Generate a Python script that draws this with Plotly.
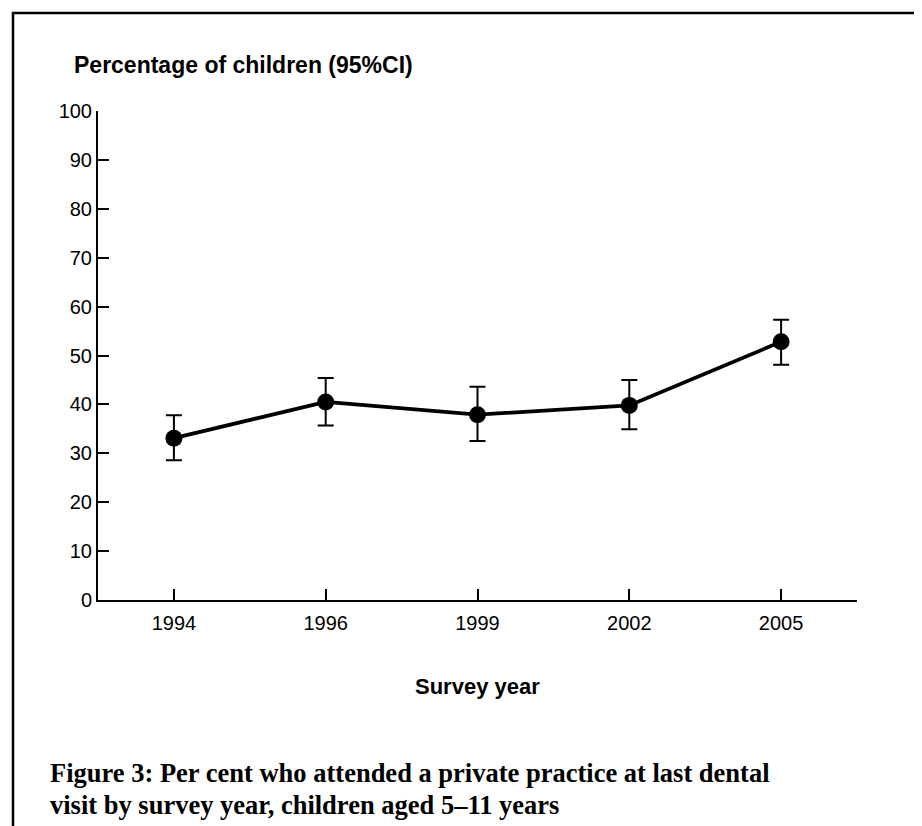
import plotly.graph_objects as go

years = ["1994", "1996", "1999", "2002", "2005"]
pct = [33.1, 40.5, 37.9, 39.8, 52.8]
ci_low = [28.6, 35.7, 32.5, 34.9, 48.1]
ci_high = [37.8, 45.4, 43.6, 45.0, 57.3]
y_ticks = [0, 10, 20, 30, 40, 50, 60, 70, 80, 90, 100]

W, H = 922, 826
L, R, T, B = 90, 73, 103, 234
pw, ph = W - L - R, H - T - B

def px(x):
    return (x - L) / pw

def py(y):
    return (H - B - y) / ph

err_plus = [h - v for h, v in zip(ci_high, pct)]
err_minus = [v - l for v, l in zip(pct, ci_low)]

fig = go.Figure()
fig.add_trace(go.Scatter(
    x=years, y=pct, mode="lines+markers",
    line=dict(color="black", width=3.8),
    marker=dict(color="black", size=17),
    error_y=dict(type="data", array=err_plus, arrayminus=err_minus,
                 color="black", thickness=2, width=8, symmetric=False),
    showlegend=False,
))

sans = "Liberation Sans, Arial, sans-serif"
font = dict(family=sans, size=20, color="black")

fig.update_layout(
    width=W, height=H,
    margin=dict(l=L, r=R, t=T, b=B),
    paper_bgcolor="white", plot_bgcolor="white",
    font=font,
    xaxis=dict(type="category", range=[-0.5, 4.5], showgrid=False, zeroline=False,
               showline=True, linecolor="black", linewidth=2,
               ticks="inside", ticklen=11, tickwidth=2, tickcolor="black",
               ticklabelstandoff=4, tickfont=font),
    yaxis=dict(range=[0, 100], tickvals=y_ticks, showgrid=False, zeroline=False,
               showline=True, linecolor="black", linewidth=2,
               ticks="inside", ticklen=11, tickwidth=2, tickcolor="black",
               tickfont=font),
)

# outer frame
fig.add_shape(type="path", xref="paper", yref="paper",
              path=f"M {px(5)},{py(840)} L {px(5)},{py(5)} L {px(918)},{py(5)} L {px(918)},{py(840)}",
              line=dict(color="black", width=2.5))

fig.add_annotation(xref="paper", yref="paper", x=px(64), y=py(57),
                   xanchor="left", yanchor="middle", showarrow=False,
                   text="<b>Percentage of children (95%CI)</b>",
                   font=dict(family=sans, size=23, color="black"))
fig.add_annotation(xref="paper", yref="paper", x=px(469.5), y=py(678),
                   xanchor="center", yanchor="middle", showarrow=False,
                   text="<b>Survey year</b>",
                   font=dict(family=sans, size=22, color="black"))
fig.add_annotation(xref="paper", yref="paper", x=px(40), y=py(765),
                   xanchor="left", yanchor="middle", showarrow=False,
                   text="<b>Figure 3: Per cent who attended a private practice at last dental</b>",
                   font=dict(family="Liberation Serif, serif", size=26.5, color="black"))
fig.add_annotation(xref="paper", yref="paper", x=px(40), y=py(797),
                   xanchor="left", yanchor="middle", showarrow=False,
                   text="<b>visit by survey year, children aged 5–11 years</b>",
                   font=dict(family="Liberation Serif, serif", size=26.5, color="black"))

fig.write_html("out.html")
